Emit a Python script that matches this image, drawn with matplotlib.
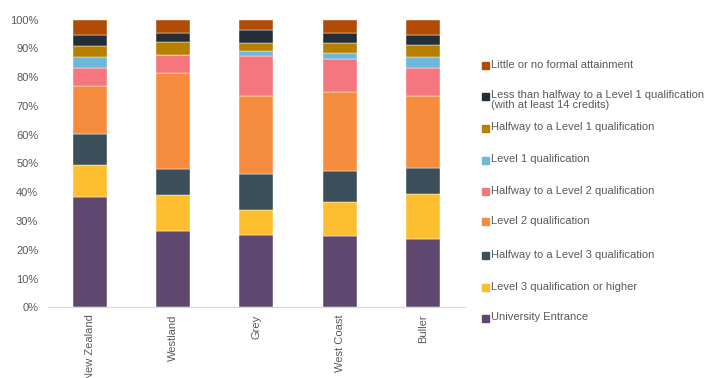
import matplotlib.pyplot as plt
from matplotlib.patches import Rectangle

plt.rcParams["font.family"] = ["Liberation Sans", "DejaVu Sans"]

regions = ["New Zealand", "Westland", "Grey", "West Coast", "Buller"]

# bottom to top stacking order
categories = [
    "University Entrance",
    "Level 3 qualification or higher",
    "Halfway to a Level 3 qualification",
    "Level 2 qualification",
    "Halfway to a Level 2 qualification",
    "Level 1 qualification",
    "Halfway to a Level 1 qualification",
    "Less than halfway to a Level 1 qualification\n(with at least 14 credits)",
    "Little or no formal attainment",
]

colors = [
    "#5E4870",
    "#FDBF2F",
    "#3B4F5A",
    "#F68D3E",
    "#F4777F",
    "#6BB8DA",
    "#B77F00",
    "#232E36",
    "#B04C06",
]

university_entrance = [38.4, 26.4, 25.1, 24.9, 23.7]
level3_or_higher = [11.2, 12.6, 8.9, 11.8, 15.8]
halfway_level3 = [10.6, 9.2, 12.5, 10.7, 9.0]
level2 = [16.9, 33.2, 26.9, 27.6, 24.8]
halfway_level2 = [6.0, 6.3, 14.1, 11.2, 9.9]
level1 = [3.9, 0.0, 1.7, 2.1, 3.9]
halfway_level1 = [3.9, 4.5, 2.8, 3.5, 4.2]
less_than_halfway = [3.6, 3.2, 4.3, 3.4, 3.5]
little_or_none = [5.5, 4.6, 3.7, 4.8, 5.2]

series = [
    university_entrance,
    level3_or_higher,
    halfway_level3,
    level2,
    halfway_level2,
    level1,
    halfway_level1,
    less_than_halfway,
    little_or_none,
]

fig = plt.figure(figsize=(7.06, 3.78), dpi=100)
ax = fig.add_axes([0.068, 0.187, 0.590, 0.761])

x = list(range(len(regions)))
bottoms = [0.0] * len(regions)
for values, color in zip(series, colors):
    ax.bar(x, values, bottom=bottoms, width=0.41, color=color,
           edgecolor="white", linewidth=0.3)
    bottoms = [b + v for b, v in zip(bottoms, values)]

ax.set_xlim(-0.5, len(regions) - 0.5)
ax.set_ylim(0, 100)
ax.set_yticks(range(0, 101, 10))
ax.set_yticklabels([f"{t}%" for t in range(0, 101, 10)])
ax.set_xticks(x)
ax.set_xticklabels(regions, rotation=90, va="top", ha="center")

for side in ["left", "right", "top"]:
    ax.spines[side].set_visible(False)
ax.spines["bottom"].set_color("#D9D9D9")
ax.tick_params(axis="both", length=0, labelsize=8, labelcolor="#595959")
ax.tick_params(axis="y", pad=7)
ax.tick_params(axis="x", pad=5)

# legend, top entry first
legend_y = [65, 96, 128, 160, 191, 222, 255, 287, 318]
for label, color, y in zip(categories[::-1], colors[::-1], legend_y):
    fig.patches.append(Rectangle((482 / 706, 1 - (y + 3.5) / 378),
                                 7 / 706, 7 / 378, color=color,
                                 transform=fig.transFigure))
    if "\n" in label:
        fig.text(491 / 706, 1 - (y - 6.5) / 378, label, fontsize=8,
                 color="#595959", va="top", ha="left", linespacing=1.05)
    else:
        fig.text(491 / 706, 1 - (y - 0.5) / 378, label, fontsize=8,
                 color="#595959", va="center", ha="left")

plt.savefig("out.png")
plt.close()
